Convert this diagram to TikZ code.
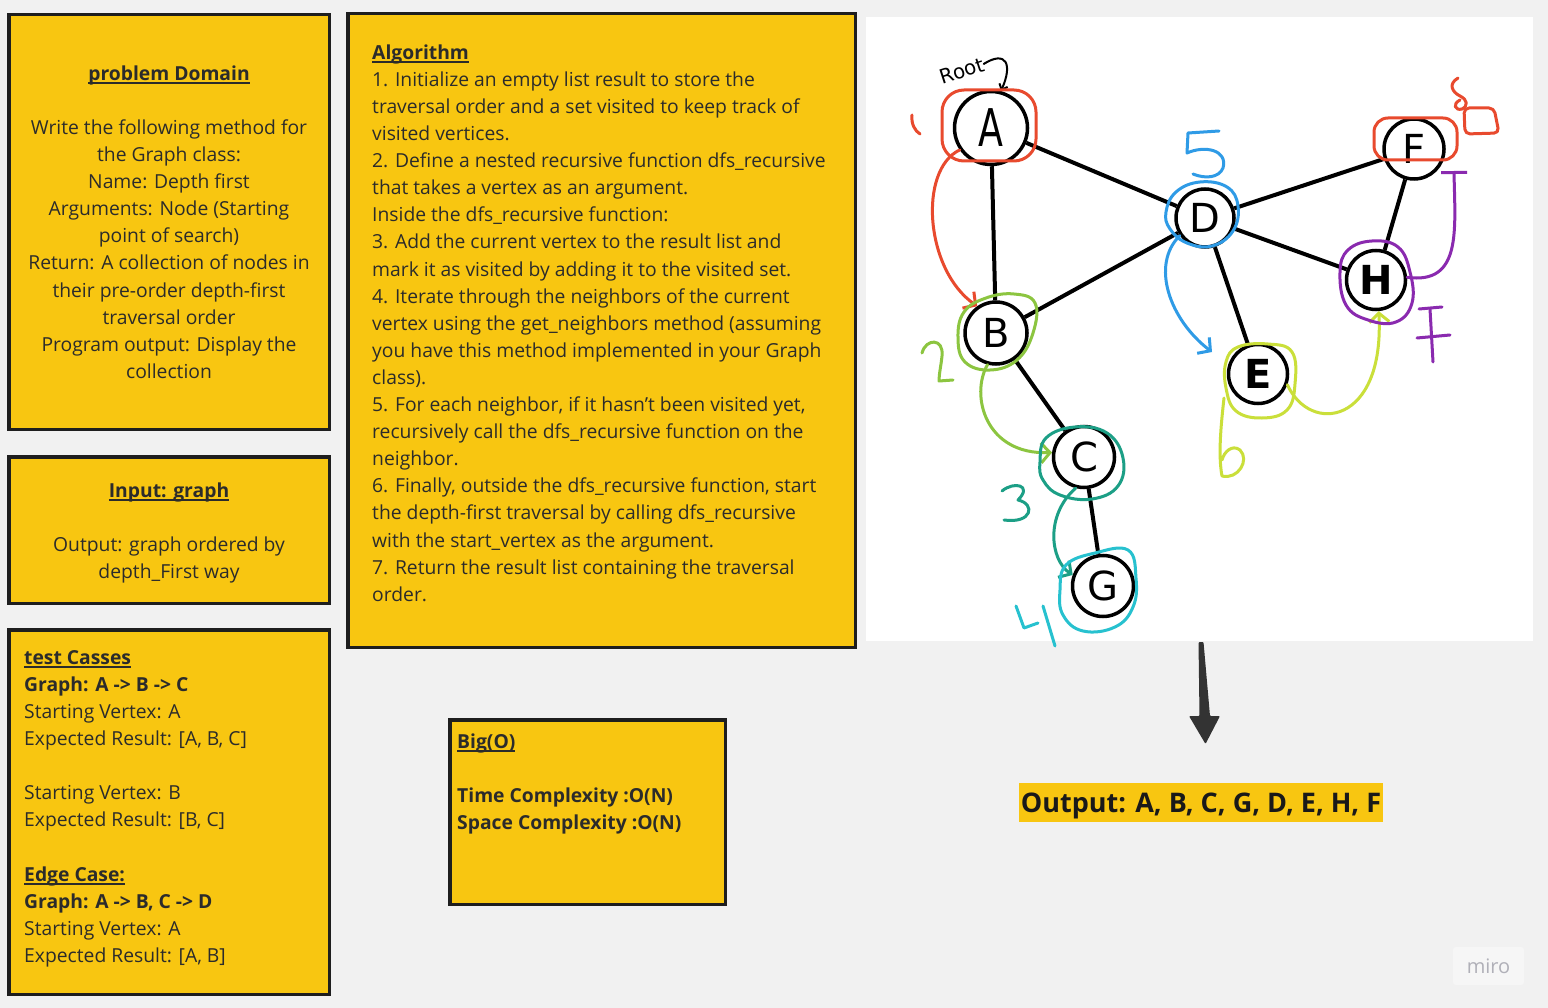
\documentclass[tikz,border=0pt]{standalone}
\usepackage{fontspec}
\usepackage{graphicx}
\setmainfont{Open Sans}
\newfontfamily\handfont{DejaVu Sans}
\usetikzlibrary{arrows.meta}
\definecolor{bg}{HTML}{F1F1F1}
\definecolor{stickyY}{HTML}{F8C611}
\definecolor{boxline}{HTML}{1E1E1E}
\definecolor{txt}{HTML}{2B2B2B}
\definecolor{redA}{HTML}{E84A2E}
\definecolor{blueD}{HTML}{2F9BE6}
\definecolor{greenB}{HTML}{8CC540}
\definecolor{tealC}{HTML}{1C9F86}
\definecolor{cyanG}{HTML}{27C1CF}
\definecolor{limeE}{HTML}{CADF3A}
\definecolor{purpH}{HTML}{8A2AAF}
\definecolor{arrowc}{HTML}{333333}
\definecolor{miroBox}{HTML}{F6F6F6}
\definecolor{miroTxt}{HTML}{B0B0B8}
\newcommand\myul[1]{\leavevmode\setbox0\hbox{#1}\dp0=0pt\vtop{\box0\kern1.7pt\hrule height1.8pt}}
\begin{document}
\begin{tikzpicture}[x=1pt,y=-1pt,
  sticky/.style={draw=boxline, line width=3.5pt, fill=stickyY, anchor=north west, inner sep=0pt},
  body/.style={inner sep=0pt, font=\fontsize{19.3}{27.1}\selectfont, text=txt},
  vtx/.style={circle, draw=black, line width=3.5pt, fill=white, minimum size=59pt, inner sep=0pt, font=\handfont\fontsize{40}{40}\selectfont},
  edge/.style={line width=4pt, black},
  ann/.style={line width=3pt, line cap=round, line join=round},
  barb/.style={-{Straight Barb[length=9pt,width=20pt]}}
]
\fill[bg] (0,0) rectangle (1548,1008);
\useasboundingbox (0,0) rectangle (1548,1008);

% ---------- sticky notes ----------
\node[sticky, minimum width=320.5pt, minimum height=414.5pt] (pd) at (7,13) {};
\node[sticky, minimum width=507.5pt, minimum height=633.5pt] (algo) at (346,12) {};
\node[sticky, minimum width=320.5pt, minimum height=146.5pt] (inp) at (7,455) {};
\node[sticky, minimum width=320.5pt, minimum height=364.5pt] (tc) at (7,628) {};
\node[sticky, minimum width=275.5pt, minimum height=184.5pt] (bigo) at (448,718) {};

\node[body, align=center, anchor=north] (pdtext) at (169,60) {\rule{0pt}{20pt}\textbf{\myul{problem Domain}}\\[27.1pt]
Write the following method for\\ the Graph class:\\ Name: Depth first\\ Arguments: Node (Starting\\ point of search)\\ Return: A collection of nodes in\\ their pre-order depth-first\\ traversal order\\ Program output: Display the\\ collection};

\node[body, align=left, anchor=north west] (algotext) at (372,39) {\rule{0pt}{20pt}\textbf{\myul{Algorithm}}\\
1. Initialize an empty list result to store the\\
traversal order and a set visited to keep track of\\
visited vertices.\\
2. Define a nested recursive function dfs\_recursive\\
that takes a vertex as an argument.\\
Inside the dfs\_recursive function:\\
3. Add the current vertex to the result list and\\
mark it as visited by adding it to the visited set.\\
4. Iterate through the neighbors of the current\\
vertex using the get\_neighbors method (assuming\\
you have this method implemented in your Graph\\
class).\\
5. For each neighbor, if it hasn't been visited yet,\\
recursively call the dfs\_recursive function on the\\
neighbor.\\
6. Finally, outside the dfs\_recursive function, start\\
the depth-first traversal by calling dfs\_recursive\\
with the start\_vertex as the argument.\\
7. Return the result list containing the traversal\\
order.};

\node[body, align=center, anchor=north] (inptext) at (169,477) {\rule{0pt}{20pt}\textbf{\myul{Input: graph}}\\[27.1pt]
Output: graph ordered by\\ depth\_First way};

\node[body, align=left, anchor=north west] (tctext) at (24,644) {\rule{0pt}{20pt}\textbf{\myul{test Casses}}\\
\textbf{Graph: A -> B -> C}\\
Starting Vertex: A\\
Expected Result: [A, B, C]\\[27.1pt]
Starting Vertex: B\\
Expected Result: [B, C]\\[27.1pt]
\textbf{\myul{Edge Case:}}\\
\textbf{Graph: A -> B, C -> D}\\
Starting Vertex: A\\
Expected Result: [A, B]};

\node[body, align=left, anchor=north west] (bigotext) at (457,728) {\rule{0pt}{20pt}\textbf{\myul{Big(O)}}\\[27.1pt]
\textbf{Time Complexity :O(N)}\\
\textbf{Space Complexity :O(N)}};

% ---------- drawing panel ----------
\node[fill=white, anchor=north west, minimum width=667pt, minimum height=624pt, inner sep=0pt, outer sep=0pt] (panel) at (866,17) {};

\node[vtx, minimum size=73pt, font=\handfont\fontsize{52}{52}\selectfont] (A) at (991,128) {\scalebox{0.7}[1]{A}};
\node[vtx, minimum size=62pt] (B) at (996,333) {B};
\node[vtx, minimum size=61pt] (C) at (1084,457) {C};
\node[vtx, minimum size=61pt] (G) at (1103,586) {G};
\node[vtx, minimum size=58pt] (D) at (1205,218) {D};
\node[vtx] (E) at (1258,374) {\bfseries E};
\node[vtx, minimum size=60pt] (F) at (1414,149) {F};
\node[vtx] (H) at (1376,280) {\bfseries H};

\draw[edge] (A) -- (B);
\draw[edge] (A) -- (D);
\draw[edge] (B) -- (D);
\draw[edge] (B) -- (C);
\draw[edge] (C) -- (G);
\draw[edge] (D) -- (F);
\draw[edge] (D) -- (H);
\draw[edge] (D) -- (E);
\draw[edge] (F) -- (H);

% Root label
\node[font=\handfont\fontsize{20}{20}\selectfont, rotate=18, inner sep=0pt] (root) at (962,71) {Root};
\draw[ann, black, line width=2pt, -{Straight Barb[length=5pt,width=9pt]}] (root.east) .. controls (1006,50) and (1013,64) .. (A.75);

% red (A, step 1)
\draw[ann, redA, rounded corners=22pt] (942,90) rectangle (1036,161);
\draw[ann, redA] (912,115) .. controls (911,124) and (915,131) .. (920,134);
\draw[ann, redA, barb] (A.215) .. controls (918,170) and (925,270) .. (B.125);

% red (F, step 8)
\draw[ann, redA, rounded corners=14pt] (1374,118) rectangle (1457,160);
\draw[ann, redA] (1458,78) .. controls (1448,84) and (1452,92) .. (1460,96) .. controls (1468,100) and (1468,106) .. (1462,109) .. controls (1455,111) and (1452,104) .. (1460,100);
\draw[ann, redA, rounded corners=5pt] (1464,108) -- (1494,108) -- (1499,133) -- (1465,134) -- cycle;

% blue (D, step 5)
\draw[ann, blueD] (1219,131) -- (1188,133) -- (1187,153) .. controls (1205,145) and (1228,150) .. (1223,168) .. controls (1219,178) and (1205,179) .. (1193,174);
\draw[ann, blueD] plot[smooth cycle, tension=0.7] coordinates {(1166,212) (1176,192) (1200,182) (1227,187) (1238,206) (1233,231) (1212,246) (1187,243) (1170,229)};
\coordinate (bluetip) at (1212,352);
\draw[ann, blueD, barb] (D.215) .. controls (1150,265) and (1170,320) .. (bluetip);

% green (B, step 2)
\draw[ann, greenB] plot[smooth cycle, tension=0.7] coordinates {(958,338) (964,312) (986,298) (1014,294) (1035,303) (1033,333) (1017,360) (990,370) (965,362)};
\draw[ann, greenB] (922,353) .. controls (926,338) and (944,338) .. (942,356) .. controls (941,366) and (939,374) .. (939,381) -- (953,380);
\draw[ann, greenB, barb] (B.255) .. controls (970,395) and (985,455) .. (C.172);

% teal (C, step 3)
\draw[ann, tealC] plot[smooth cycle, tension=0.7] coordinates {(1040,462) (1046,438) (1075,427) (1107,433) (1123,458) (1118,486) (1092,499) (1060,495) (1043,480)};
\draw[ann, tealC] (1002,491) .. controls (1014,481) and (1033,485) .. (1018,500) .. controls (1036,504) and (1032,524) .. (1004,520);
\draw[ann, tealC, barb] (C.255) .. controls (1045,515) and (1050,560) .. (G.160);

% cyan (G, step 4)
\draw[ann, cyanG] plot[smooth cycle, tension=0.7] coordinates {(1060,590) (1066,565) (1095,553) (1128,550) (1136,578) (1133,607) (1115,627) (1083,631) (1063,615)};
\draw[ann, cyanG] (1016,606) -- (1024,628) -- (1038,623);
\draw[ann, cyanG] (1043,606) -- (1055,646);

% lime (E, step 6)
\draw[ann, limeE] plot[smooth cycle, tension=0.7] coordinates {(1226,362) (1238,347) (1268,344) (1292,352) (1295,384) (1287,410) (1262,418) (1236,411) (1226,388)};
\draw[ann, limeE] (1224,398) .. controls (1221,425) and (1218,455) .. (1222,476) .. controls (1238,480) and (1250,460) .. (1240,450) .. controls (1232,444) and (1224,452) .. (1222,460);
\draw[ann, limeE, barb] (E.-20) .. controls (1310,435) and (1385,425) .. (H.275);

% purple (H, step 7)
\draw[ann, purpH] plot[smooth cycle, tension=0.7] coordinates {(1340,272) (1348,250) (1372,241) (1398,247) (1410,272) (1412,303) (1396,322) (1368,320) (1346,305)};
\coordinate (purpend) at (1454,171);
\draw[ann, purpH, -{Bar[width=26pt]}] (H.5) .. controls (1462,285) and (1455,230) .. (purpend);
\draw[ann, purpH] (1419,309) -- (1442,307);
\draw[ann, purpH] (1430,309) -- (1433,362);
\draw[ann, purpH] (1417,338) -- (1450,335);

% ---------- output ----------
\fill[arrowc, rounded corners=1pt] (1198.5,642) -- (1203.5,642) -- (1210,716) -- (1220,716) -- (1205.5,744) -- (1189,716) -- (1199.5,716) -- cycle;
\node[fill=stickyY, font=\bfseries\fontsize{27}{27}\selectfont, text=black!90, minimum height=39pt, text height=19.5pt, text depth=0pt, inner xsep=2pt, inner ysep=0pt] (out) at (1201,802.5) {Output: A, B, C, G, D, E, H, F};

\node[fill=miroBox, rounded corners=3pt, minimum width=71pt, minimum height=38pt, font=\fontsize{20}{20}\selectfont, text=miroTxt] (miro) at (1488.5,966) {miro};
\end{tikzpicture}
\end{document}
